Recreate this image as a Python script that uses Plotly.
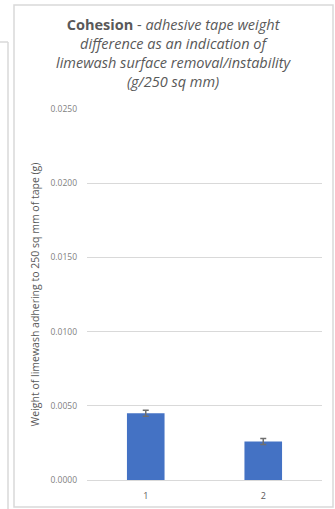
import plotly.graph_objects as go

categories = ["1", "2"]
values = [0.0045, 0.0026]
errors = [0.0002, 0.0002]
tick_vals = [0.0, 0.005, 0.010, 0.015, 0.020, 0.025]
tick_text = ["0.0000", "0.0050", "0.0100", "0.0150", "0.0200", "0.0250"]

W, H = 335, 509
L, R, T, B = 87, 13, 109, 29
pw, ph = W - L - R, H - T - B


def px(x):
    return (x - L) / pw


def py(y):
    return (H - B - y) / ph


fig = go.Figure(
    go.Bar(
        x=categories,
        y=values,
        width=0.32,
        marker=dict(color="#4472c4", line=dict(width=0)),
        error_y=dict(type="data", array=errors, visible=True,
                     color="#6f6f6f", thickness=1.5, width=3),
    )
)

grey = "#d9d9d9"
shapes = [
    # outer chart frame
    dict(type="rect", xref="paper", yref="paper",
         x0=px(14), x1=px(333), y0=py(507), y1=py(5),
         line=dict(color=grey, width=1.5), fillcolor="rgba(0,0,0,0)", layer="below"),
    # edge of the neighbouring chart
    dict(type="line", xref="paper", yref="paper",
         x0=px(8), x1=px(8), y0=py(42), y1=py(509),
         line=dict(color=grey, width=1.5)),
    dict(type="line", xref="paper", yref="paper",
         x0=px(0), x1=px(8), y0=py(42), y1=py(42),
         line=dict(color=grey, width=1.5)),
]

title_text = (
    "<b>Cohesion</b> - <i>adhesive tape weight</i><br>"
    "<i>difference as an indication of</i><br>"
    "<i>limewash surface removal/instability</i><br>"
    "<i>(g/250 sq mm)</i>"
)

fig.update_layout(
    width=W, height=H,
    margin=dict(l=L, r=R, t=T, b=B),
    paper_bgcolor="white", plot_bgcolor="white",
    font=dict(family="Open Sans", color="#595959"),
    showlegend=False,
    bargap=0.68,
    shapes=shapes,
    annotations=[
        dict(text=title_text, xref="paper", yref="paper",
             x=px(173.5), y=py(13), xanchor="center", yanchor="top",
             showarrow=False, align="center",
             font=dict(size=14.5, color="#595959", family="Open Sans")),
    ],
    xaxis=dict(
        type="category", showgrid=False, zeroline=False, automargin=False,
        showline=False, ticks="", ticklabelstandoff=9,
        tickfont=dict(size=9, color="#595959"),
    ),
    yaxis=dict(
        range=[0, 0.025], automargin=False,
        tickvals=tick_vals, ticktext=tick_text,
        showgrid=True, gridcolor=grey, gridwidth=1,
        zeroline=True, zerolinecolor=grey, zerolinewidth=1,
        showline=False, ticks="", ticklabelstandoff=9,
        tickfont=dict(size=8.5, color="#7f7f7f"),
        title=dict(text="Weight of limewash adhering to 250 sq mm of tape (g)",
                   font=dict(size=10.5, color="#595959"), standoff=8),
    ),
)

fig.write_html("out.html")
